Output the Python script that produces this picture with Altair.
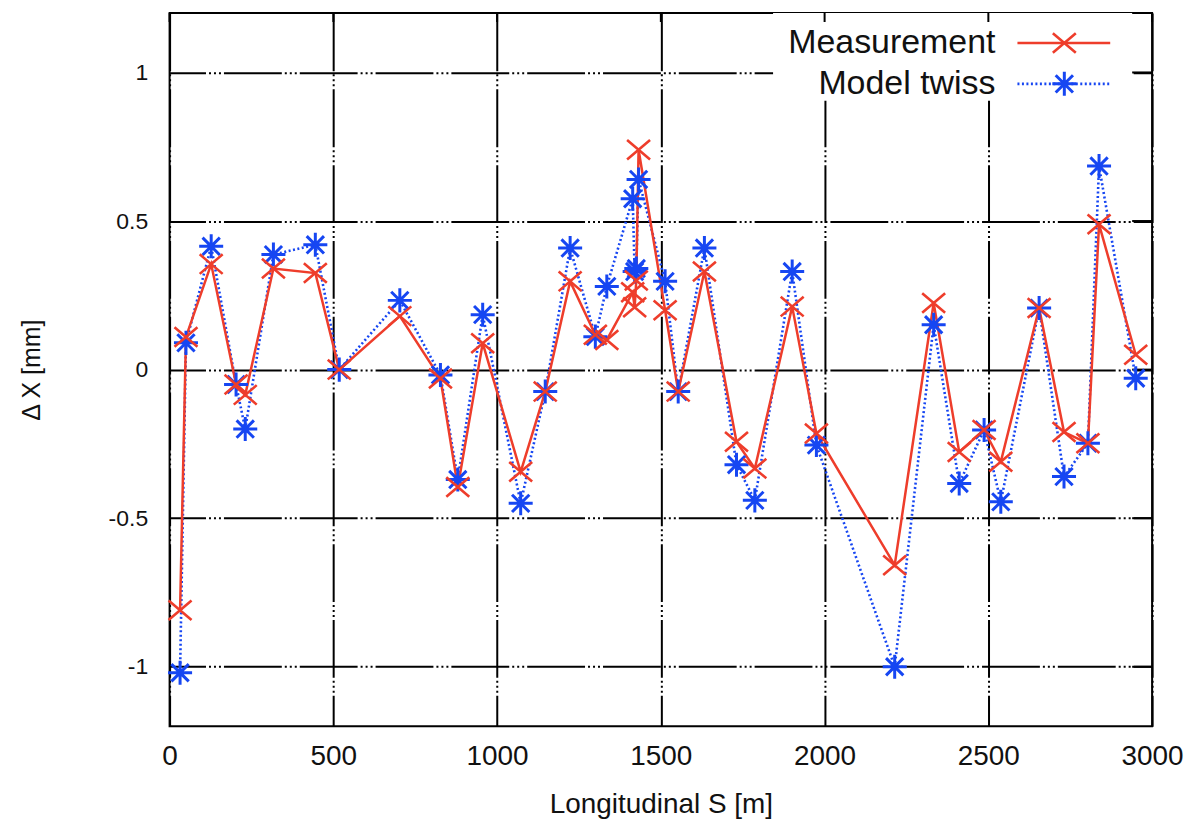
import altair as alt
import pandas as pd

# Longitudinal position of BPMs [m]
s_pos = [32, 50, 127, 203, 231, 317, 445, 518, 703, 827, 880, 956, 1072, 1147,
         1223, 1300, 1335, 1414, 1420, 1425, 1432, 1513, 1553, 1633, 1731, 1787,
         1901, 1975, 2214, 2333, 2411, 2487, 2538, 2655, 2731, 2804, 2838, 2950]
# Measured Delta X [mm]
measurement = [-0.81, 0.11, 0.355, -0.05, -0.085, 0.34, 0.325, 0.0, 0.18, -0.03,
               -0.395, 0.089, -0.344, -0.074, 0.297, 0.117, 0.10, 0.26, 0.21, 0.30,
               0.74, 0.20, -0.074, 0.33, -0.243, -0.333, 0.212, -0.215, -0.658,
               0.224, -0.277, -0.203, -0.31, 0.207, -0.21, -0.248, 0.489, 0.05]
# Model twiss Delta X [mm]
model = [-1.02, 0.09, 0.415, -0.05, -0.20, 0.387, 0.42, 0.0, 0.233, -0.018,
         -0.37, 0.185, -0.45, -0.074, 0.409, 0.111, 0.28, 0.575, 0.33, 0.34,
         0.64, 0.297, -0.074, 0.409, -0.32, -0.44, 0.33, -0.254, -1.0,
         0.151, -0.383, -0.203, -0.445, 0.207, -0.36, -0.248, 0.685, -0.029]

x_ticks = [0, 500, 1000, 1500, 2000, 2500, 3000]
y_ticks = [-1, -0.5, 0, 0.5, 1]
series_names = ["Measurement", "Model twiss"]

RED = "#ee3d2b"
BLUE = "#1646f2"
CROSS = "M-1,-0.85L1,0.85M-1,0.85L1,-0.85"
STAR = "M-1,0L1,0M0,-1L0,1M-0.72,-0.72L0.72,0.72M-0.72,0.72L0.72,-0.72"

W, H = 985, 715

df = pd.DataFrame({"S": s_pos, "meas": measurement, "model": model})
xtdf = pd.DataFrame({"t": x_ticks})
ytdf = pd.DataFrame({"t": y_ticks})
one = pd.DataFrame({"k": [0]})

xscale = alt.Scale(domain=[0, 3000], nice=False, zero=False)
yscale = alt.Scale(domain=[-1.2, 1.2], nice=False, zero=False)

GRID_DASH = [58, 3, 2, 3, 2, 3, 2, 3]

xaxis = alt.Axis(
    values=x_ticks, title="Longitudinal S [m]", format="d",
    grid=True, gridColor="black", gridWidth=2, gridDash=GRID_DASH,
    ticks=False, tickSize=0, domain=False,
    labelFont="Liberation Sans", labelFontSize=28, labelColor="#111",
    labelPadding=30, labelBaseline="middle", labelFlush=False,
    titleFont="Liberation Sans", titleFontSize=28, titleFontWeight="normal",
    titleColor="#111", titleX=W / 2, titleY=79, titleBaseline="middle",
)
yaxis = alt.Axis(
    values=y_ticks, title="Δ X [mm]",
    grid=True, gridColor="black", gridWidth=2, gridDash=GRID_DASH, gridDashOffset=22,
    ticks=False, tickSize=0, domain=False,
    labelFont="Liberation Sans", labelFontSize=23, labelColor="#111",
    labelPadding=22, labelAlign="right", labelBaseline="middle",
    labelExpr="datum.value + ''",
    titleFont="Liberation Sans", titleFontSize=25, titleFontWeight="normal",
    titleColor="#111", titleAngle=270, titleX=-138, titleY=H / 2,
    titleBaseline="middle", titleAlign="center",
)

base = alt.Chart(df)

# axes + grid carrier (invisible)
frame = base.mark_point(opacity=0).encode(
    x=alt.X("S:Q", scale=xscale, axis=xaxis),
    y=alt.Y("meas:Q", scale=yscale, axis=yaxis),
)

# white legend box covering the grid
legend_box = alt.Chart(one).mark_rect(color="white").encode(
    x=alt.value(605), x2=alt.value(965), y=alt.value(0), y2=alt.value(88)
)

# mirror ticks on top and right borders
top_ticks = alt.Chart(xtdf).mark_rule(color="black", strokeWidth=2).encode(
    x=alt.X("t:Q", scale=xscale), y=alt.value(0), y2=alt.value(9)
)
right_ticks = alt.Chart(ytdf).mark_rule(color="black", strokeWidth=2).encode(
    y=alt.Y("t:Q", scale=yscale), x=alt.value(W - 20), x2=alt.value(W)
)

model_line = base.mark_line(color=BLUE, strokeWidth=2.6, strokeDash=[2, 2.5]).encode(
    x=alt.X("S:Q", scale=xscale), y=alt.Y("model:Q", scale=yscale)
)
meas_line = base.mark_line(color=RED, strokeWidth=2.5).encode(
    x=alt.X("S:Q", scale=xscale), y=alt.Y("meas:Q", scale=yscale)
)
model_pts = base.mark_point(shape=STAR, size=580, filled=False, color=BLUE,
                            strokeWidth=3, opacity=1).encode(
    x=alt.X("S:Q", scale=xscale), y=alt.Y("model:Q", scale=yscale)
)
meas_pts = base.mark_point(shape=CROSS, size=530, filled=False, color=RED,
                           strokeWidth=2.6, opacity=1).encode(
    x=alt.X("S:Q", scale=xscale), y=alt.Y("meas:Q", scale=yscale)
)

# manual gnuplot-style legend (label left of sample)
leg_y = [30, 71]
leg_text1 = alt.Chart(one).mark_text(text=series_names[0], align="right", baseline="middle",
                                     font="Liberation Sans", fontSize=34, color="#111").encode(
    x=alt.value(828), y=alt.value(leg_y[0]))
leg_text2 = alt.Chart(one).mark_text(text=series_names[1], align="right", baseline="middle",
                                     font="Liberation Sans", fontSize=34, color="#111").encode(
    x=alt.value(828), y=alt.value(leg_y[1]))
leg_line1 = alt.Chart(one).mark_rule(color=RED, strokeWidth=2.5).encode(
    x=alt.value(850), x2=alt.value(943), y=alt.value(leg_y[0]))
leg_line2 = alt.Chart(one).mark_rule(color=BLUE, strokeWidth=2.6, strokeDash=[2, 2.5]).encode(
    x=alt.value(850), x2=alt.value(943), y=alt.value(leg_y[1]))
leg_sym1 = alt.Chart(one).mark_point(shape=CROSS, size=530, filled=False, color=RED,
                                     strokeWidth=2.6, opacity=1).encode(
    x=alt.value(897), y=alt.value(leg_y[0]))
leg_sym2 = alt.Chart(one).mark_point(shape=STAR, size=580, filled=False, color=BLUE,
                                     strokeWidth=3, opacity=1).encode(
    x=alt.value(897), y=alt.value(leg_y[1]))

chart = alt.layer(
    frame, legend_box, top_ticks, right_ticks,
    model_line, meas_line, model_pts, meas_pts,
    leg_line1, leg_line2, leg_sym1, leg_sym2, leg_text1, leg_text2,
).properties(
    width=W, height=H,
    autosize=alt.AutoSizeParams(type="none"),
    padding={"left": 162, "top": 4, "right": 42, "bottom": 95},
    background="white",
).configure_view(
    stroke="black", strokeWidth=2,
)

chart.save("out.html", embed_options={"renderer": "svg", "actions": False})
